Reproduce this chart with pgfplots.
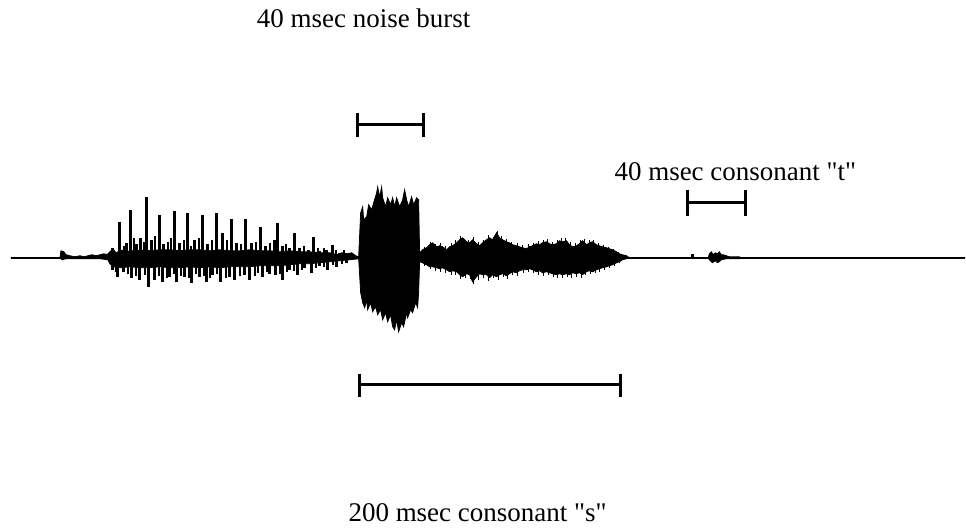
\documentclass[border=0pt]{standalone}
\usepackage{pgfplots}
\pgfplotsset{compat=1.18}
\usepgfplotslibrary{fillbetween}
\usepackage{fontspec}
\setmainfont{Liberation Serif}[Ligatures=TeXOff]
\begin{document}
\begin{tikzpicture}
\begin{axis}[scale only axis, width=966pt, height=529pt,
  xmin=0, xmax=966, ymin=-271, ymax=258, hide axis, clip=false]
\addplot[draw=none] coordinates {(0,-271) (966,258)};
% baseline
\addplot[black, line width=1.8pt] coordinates {(11,0) (966,0)};
% envelopes
\addplot[name path=up, black, line width=0.8pt] table {
x y
11 0
60 0
61 7
64 6
66 3
70 2
75 1
80 2
84 1
88 2
92 3
96 2
100 3
104 4
107 3
110 6
113 9
116 5
120 7
125 8
130 6
135 8
140 7
145 8
150 7
160 8
170 8
180 7
190 8
200 8
210 7
220 8
230 7
240 7
250 8
260 7
270 7
280 6
290 7
300 6
310 6
320 5
330 5
338 3
342 5
348 4
352 5
356 2
359 1
361 45
363 51
364 38
367 41
369 53
372 48
374 55
377 65
378 71
380 61
382 71
383 60
386 51
388 60
391 53
393 60
395 51
397 60
400 51
403 58
405 68
407 58
409 51
412 61
414 53
417 60
419 58
420 5
423 8
427 10
430 13
433 15
437 11
440 12
443 11
447 8
450 11
453 12
457 15
460 18
463 20
467 16
470 15
473 18
477 14
480 12
483 15
487 18
490 20
493 18
497 25
500 20
503 18
507 16
510 15
513 13
517 12
520 11
523 10
527 9
530 11
533 12
537 14
540 13
543 15
547 16
550 14
553 13
557 14
560 17
563 16
567 17
570 13
573 11
577 12
580 14
583 17
587 13
590 15
593 16
597 13
600 12
603 11
607 10
610 9
613 8
617 6
620 4
623 3
627 2
630 0
709 0
710 4
712 6
714 3
716 5
718 4
720 6
722 3
724 3
727 2
730 1
740 1
742 0
966 0
};
\addplot[name path=lo, black, line width=0.8pt] table {
x y
11 0
60 0
62 -2
66 -1
80 -1
100 -1
108 -2
110 -6
113 -9
120 -10
130 -9
140 -10
150 -10
160 -9
170 -10
180 -10
190 -9
200 -10
210 -9
220 -10
230 -9
240 -9
250 -9
260 -8
270 -8
280 -8
290 -7
300 -6
310 -6
320 -5
330 -4
340 -3
350 -2
359 -1
361 -35
363 -45
365 -50
367 -42
368 -52
371 -45
373 -54
376 -49
378 -57
381 -52
383 -62
386 -55
388 -64
391 -57
393 -69
395 -72
397 -62
399 -74
402 -65
404 -69
407 -55
408 -60
411 -52
413 -55
416 -45
418 -50
419 -35
420 -4
423 -5
427 -7
430 -9
433 -9
437 -10
440 -11
443 -10
447 -12
450 -14
453 -13
457 -14
460 -17
463 -19
467 -16
470 -17
473 -24
477 -19
480 -16
483 -17
487 -17
490 -20
493 -17
497 -19
500 -17
503 -16
507 -18
510 -16
513 -14
517 -15
520 -13
523 -12
527 -12
530 -11
533 -12
537 -14
540 -13
543 -15
547 -14
550 -15
553 -16
557 -17
560 -16
563 -17
567 -16
570 -17
573 -15
577 -16
580 -15
583 -17
587 -14
590 -13
593 -14
597 -12
600 -11
603 -10
607 -9
610 -8
613 -7
617 -5
620 -4
623 -2
627 -1
630 0
709 0
710 -2
713 -5
716 -3
718 -5
720 -4
722 -2
727 -1
740 -1
742 0
966 0
};
\addplot[black] fill between[of=up and lo];
% voiced main spikes
\addplot[ycomb, black, line width=3pt] table {
x y
113 10
120 36
127 15
131 48
137 14
141 20
147 61
152 18
160 43
164 14
175 47
180 15
188 45
195 18
203 43
208 14
217 45
223 25
232 39
237 15
246 39
252 15
261 31
266 12
275 18
278 35
283 12
290 10
295 25
300 10
309 8
314 21
320 7
327 8
333 13
340 5
348 5
693 4
};
\addplot[ycomb, black, line width=3pt] table {
x y
113 -12
118 -19
124 -14
132 -20
140 -22
149 -29
155 -22
163 -24
170 -19
177 -24
185 -19
192 -25
200 -19
207 -24
213 -17
221 -24
230 -19
235 -22
245 -17
250 -22
263 -19
270 -16
276 -17
283 -22
290 -12
298 -17
305 -10
312 -15
320 -8
328 -12
337 -9
347 -5
};
% voiced secondary spikes
\addplot[ycomb, black, line width=2pt] table {
x y
124 12
134 20
144 16
155 22
168 16
171 20
184 18
191 12
199 20
212 18
227 18
241 14
256 16
270 15
286 14
304 12
318 10
324 10
336 8
344 8
};
\addplot[ycomb, black, line width=2pt] table {
x y
116 -14
128 -16
136 -18
145 -17
159 -18
167 -20
174 -16
181 -18
189 -20
196 -16
204 -18
210 -20
217 -16
226 -20
240 -18
255 -18
258 -15
267 -14
280 -16
287 -14
294 -13
302 -12
316 -10
324 -9
333 -7
342 -6
};
% fricative texture
\addplot[ycomb, black, line width=1.5pt] table {
x y
425 11
431 16
436 14
441 15
446 12
452 15
456 18
461 22
465 19
469 18
474 21
479 16
484 18
489 23
494 21
498 27
502 22
507 19
512 16
518 15
523 13
529 14
534 15
539 17
544 18
548 19
553 16
558 18
562 20
566 20
571 16
576 15
581 18
585 19
590 18
594 18
599 15
604 13
609 11
614 9
619 6
};
\addplot[ycomb, black, line width=1.5pt] table {
x y
425 -8
431 -11
436 -13
441 -14
446 -15
452 -17
456 -17
461 -21
466 -20
471 -21
474 -26
479 -22
484 -20
489 -23
494 -20
499 -22
504 -19
508 -21
513 -17
518 -18
524 -15
529 -14
534 -15
539 -17
544 -18
549 -17
554 -19
558 -20
563 -20
568 -19
572 -20
577 -19
582 -20
586 -17
591 -16
596 -15
600 -14
605 -12
610 -10
615 -8
620 -5
};
% brackets
\addplot[black, line width=3pt] coordinates {(358,133) (424,133)};
\addplot[black, line width=3pt] coordinates {(358,145) (358,121)};
\addplot[black, line width=3pt] coordinates {(424,145) (424,121)};
\addplot[black, line width=3pt] coordinates {(688,55) (746,55)};
\addplot[black, line width=3pt] coordinates {(688,68) (688,42)};
\addplot[black, line width=3pt] coordinates {(746,68) (746,42)};
\addplot[black, line width=3pt] coordinates {(360,-127) (621,-127)};
\addplot[black, line width=3pt] coordinates {(360,-116) (360,-139)};
\addplot[black, line width=3pt] coordinates {(621,-116) (621,-139)};
% labels
\node[inner sep=0pt, font=\fontsize{27}{32}\selectfont] at (axis cs:364,240) {40 msec noise burst};
\node[inner sep=0pt, font=\fontsize{27}{32}\selectfont] at (axis cs:736,86) {40 msec consonant "t"};
\node[inner sep=0pt, font=\fontsize{27}{32}\selectfont] at (axis cs:478,-255) {200 msec consonant "s"};
\end{axis}
\end{tikzpicture}
\end{document}
